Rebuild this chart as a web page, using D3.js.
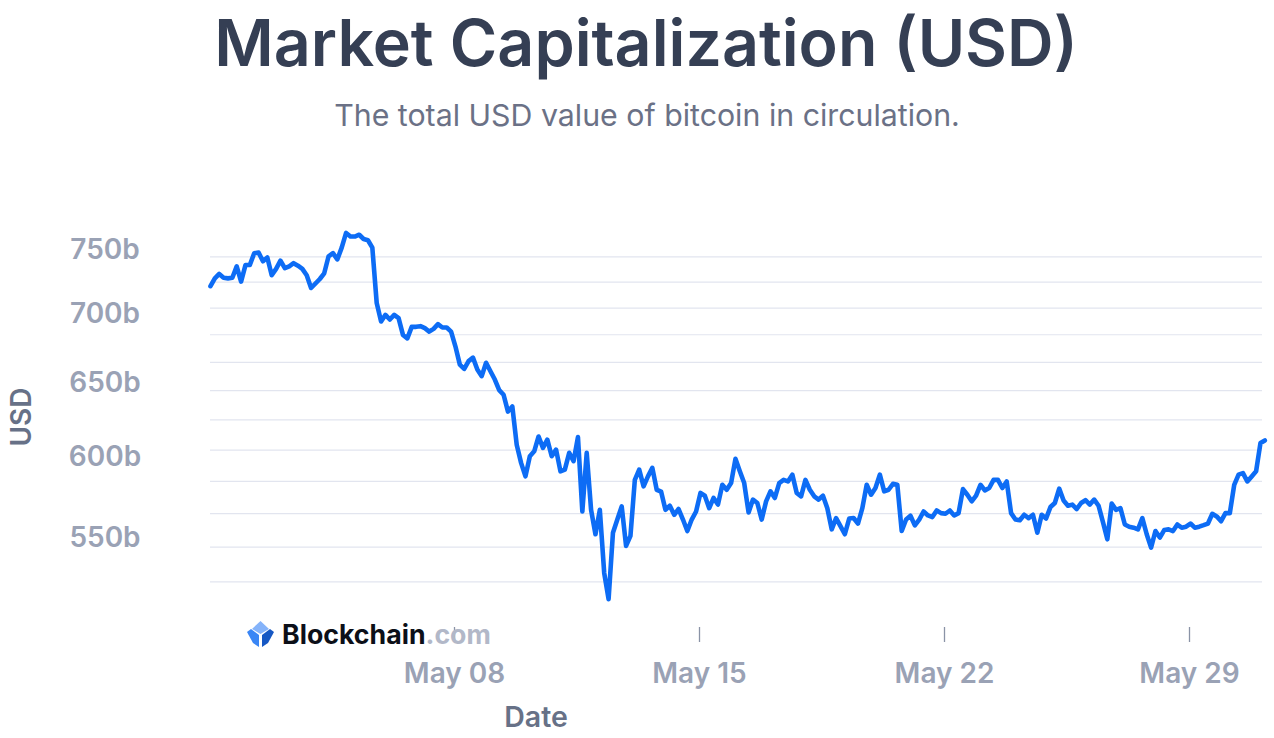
<!DOCTYPE html>
<html><head><meta charset="utf-8">
<style>html,body{margin:0;padding:0;background:#fff}svg{display:block}text{font-family:Inter,"Noto Sans",sans-serif}</style>
<script src="https://cdn.jsdelivr.net/npm/d3@7/dist/d3.min.js"></script>
</head><body><svg id="c" width="1274" height="738"></svg>
<script>
const titleText = "Market Capitalization (USD)";
const subtitleText = "The total USD value of bitcoin in circulation.";
const gridValues = [745,725,705,685,665,645,625,605,585,565,545,525];
const yLabelValues = [750,700,650,600,550];
const xTickDates = ["2022-05-08","2022-05-15","2022-05-22","2022-05-29"];
const seriesStart = "2022-05-01T01:00:00Z";
const stepHours = 3;
const valuesBn = [
721.4,727.5,731,728,727.5,728,737,725,738,738,747.5,748,741,744,730,735,741.5,735.5,737,739.5,
737.5,735,730,720,723.5,727,731.5,745,747.5,742.5,752,764,761,761,762.5,759,758,752,708.5,694.5,
699.5,696,699.5,697,684.5,682,690.5,690.5,691,689.5,687,689,692.5,690,690,687,676,663,660,665.5,
668,659.5,654.8,664.3,658.3,652.4,645,641.8,630.3,633.7,608.2,596.4,587.8,600.7,603.9,613.6,606.1,611.5,600.7,605,
591,592.1,602.9,597.5,613.2,566,602.9,567,552.3,567,529.7,515,553.2,561.1,569.1,545.4,551.3,585.6,592.1,581.5,
587.8,593.2,579.4,578.3,567,569.5,564,567.5,561.1,554.2,561.1,566,577.4,575.7,568,574.3,570.2,582.5,579.4,583.6,
599,591,583.6,565.4,573.3,571.2,561.1,572.2,578.4,574.3,583.6,585.6,584.6,588.9,577.4,575.3,585.6,579.4,575.3,573.3,
575.7,568,555.2,562,557.2,552.3,561.7,562,558.7,568,582.5,576.3,580.5,588.9,578.4,579.4,583.1,582.5,554.2,561.1,
563.4,557.6,561.1,566,563.6,562.6,566.6,565,564.6,566.6,563.6,565,579.8,576.3,572.2,575.7,582.5,579,580.5,585.6,
585.6,580.5,584.6,565,561.1,560.7,564,562,564,553.2,564,561.7,568.7,571.2,580.1,572.7,569.5,570.2,567.5,571.2,
572.9,570.2,573.3,569.5,559.5,549.3,570.8,567,568,558.1,556.8,556.2,555.2,562,552.3,544.4,554.2,550.3,554.8,555.2,
554.2,558.1,556.2,556.8,558.7,556.2,556.8,557.7,558.7,564.6,563,560.1,565,565,582.5,588.9,589.9,584.6,587.8,591,
609.3,611];

const svg = d3.select("#c");
const x = d3.scaleUtc().domain([new Date("2022-05-08T00:00:00Z"), new Date("2022-05-29T00:00:00Z")]).range([454,1189]);
const y = d3.scaleLog().domain([745,525]).range([256.3,581.3]);
const t0 = new Date(seriesStart).getTime();
const points = valuesBn.map((v,i)=>({d:new Date(t0+i*stepHours*3600e3),v}));

const LEFT = 210, RIGHT = 1262;
const grid = d3.axisLeft(y).tickValues(gridValues).tickSize(-(RIGHT-LEFT)).tickFormat("");
const gg = svg.append("g").attr("transform",`translate(${LEFT},0)`).call(grid);
gg.select(".domain").remove();
gg.selectAll("line").attr("stroke","#e2e5ef").attr("stroke-width",1.2);

// x axis ticks
const xa = d3.axisBottom(x).tickValues(xTickDates.map(s=>new Date(s+"T00:00:00Z")))
  .tickSize(15).tickPadding(16).tickFormat(d3.utcFormat("%b %d"));
const xg = svg.append("g").attr("transform","translate(0,627)").call(xa);
xg.select(".domain").remove();
xg.selectAll("line").attr("stroke","#8a93a6").attr("stroke-width",1.3);
xg.selectAll("text").attr("fill","#9aa2b5").attr("font-size",28).attr("font-weight",600)
  .attr("font-family","Inter").attr("dy",null)
  .attr("dominant-baseline","middle").attr("y",48.5);

// y labels
svg.append("g").selectAll("text").data(yLabelValues).join("text")
  .attr("x",105).attr("y",d=>y(d)+1.5).attr("text-anchor","middle").attr("dominant-baseline","middle")
  .attr("fill","#9aa2b5").attr("font-size",28).attr("font-weight",600).text(d=>d+"b");

// line
const line = d3.line().x(d=>x(d.d)).y(d=>y(d.v)).curve(d3.curveLinear);
svg.append("path").datum(points).attr("d",line).attr("fill","none")
  .attr("stroke","#0d6cf5").attr("stroke-width",4.6).attr("stroke-linejoin","round").attr("stroke-linecap","round");

// titles
svg.append("text").attr("x",646).attr("y",66).attr("text-anchor","middle")
  .attr("font-size",64.5).attr("font-weight",600).attr("fill","#353f54").text(titleText);
svg.append("text").attr("x",647).attr("y",126).attr("text-anchor","middle")
  .attr("font-size",30.3).attr("font-weight",400).attr("fill","#6b7186").text(subtitleText);
svg.append("text").attr("x",536).attr("y",727).attr("text-anchor","middle")
  .attr("font-size",28.5).attr("font-weight",600).attr("fill","#677187").text("Date");
svg.append("text").attr("transform","translate(31,417) rotate(-90)").attr("text-anchor","middle")
  .attr("font-size",28).attr("font-weight",600).attr("fill","#677187").text("USD");

// logo
const logo = svg.append("g").attr("transform","translate(247,621)");
logo.append("path").attr("d","M13.5 0 L22 8 L13.5 13 L5 8 Z").attr("fill","#85b3fa");
logo.append("path").attr("d","M0 11 L4 8 L12 14 L12 26 L6 22 Z").attr("fill","#3a86f5");
logo.append("path").attr("d","M27 11 L23 8 L15 14 L15 26 L21 22 Z").attr("fill","#1658c4");
const lt = svg.append("text").attr("x",282).attr("y",644).attr("font-size",26.7).attr("font-weight",700);
lt.append("tspan").attr("fill","#0c0f18").text("Blockchain");
lt.append("tspan").attr("fill","#b2b8c8").text(".com");
</script></body></html>
